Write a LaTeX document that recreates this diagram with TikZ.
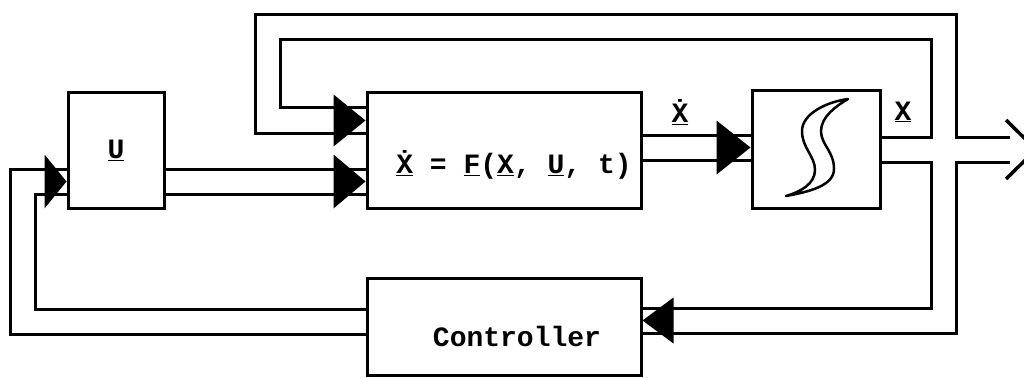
\documentclass[tikz,border=0pt]{standalone}
\usepackage{fontspec}
\setmonofont{Liberation Mono}
\usetikzlibrary{calc}
\tikzset{
    block/.style={rectangle, draw, line width=3pt, inner sep=0pt, font=\ttfamily\bfseries\fontsize{28}{32}\selectfont},
    sig/.style={inner sep=0pt, font=\ttfamily\bfseries\fontsize{28}{32}\selectfont},
    pipe/.style={double, double distance=22pt, line width=3pt},
    pics/head/.style args={#1/#2}{code={\fill (0,0) -- (-#1,-#2) -- (-#1,#2) -- cycle;}},
}

\begin{document}
\begin{tikzpicture}[x=1pt, y=-1pt]
    \useasboundingbox (0,0) rectangle (1024,377);
    \clip (0,0) rectangle (1024,377);

    % Blocks
    \node[block, minimum width=96pt, minimum height=115pt] (U) at (116,150.5) {\underline{U}};
    \node[block, minimum width=274pt, minimum height=115pt, text height=52pt, text depth=6pt] (F) at (504,150.5) {\hspace*{20pt}\underline{\.{X}} = \underline{F}(\underline{X}, \underline{U}, t)};
    \node[block, minimum width=128pt, minimum height=117pt] (I) at (816,149.5) {};
    \node[block, minimum width=274pt, minimum height=97pt, text height=40pt, text depth=0pt] (C) at (504,326.5) {\hspace*{26pt}Controller};

    % Integral sign
    \draw[line width=2.5pt, fill=white, line join=round] (848,99) .. controls (826,102) and (802,114) .. (802,131)
        .. controls (802,148) and (815,156) .. (815,170) .. controls (815,184) and (800,192) .. (786,196)
        .. controls (808,192) and (834,186) .. (834,169) .. controls (834,151) and (821,145) .. (821,131)
        .. controls (821,117) and (836,106) .. (848,99) -- cycle;

    % Connector ends
    \coordinate (Fin) at ([yshift=30pt]F.west);
    \coordinate (Fin2) at ([yshift=-31pt]F.west);
    \coordinate (Fout) at ([yshift=3pt]F.east);
    \coordinate (Cin) at ([yshift=6pt]C.east);
    \coordinate (Cout) at ([yshift=5pt]C.west);
    \coordinate (Uin) at ([yshift=-31pt]U.west);
    \coordinate (J) at (943.5,149.5);
    \coordinate (tr) at (943.5,27.5);
    \coordinate (tl) at (267.5,27.5);
    \coordinate (out) at (1010,149.5);

    % Pipes
    \draw[pipe] ([yshift=-31pt]U.east) -- (Fin2);
    \draw[pipe] (Fout) -- (Fout -| I.west);
    \draw[pipe] (I.east) -- (out) (J) -- (tr) -- (tl) |- (Fin) (J) |- (Cin);
    \draw[pipe] (Cout) -| ([xshift=-44pt]Uin) -- (Uin);

    % Arrow heads
    \pic at (Fin) {head=32/26};
    \pic at (Fin2) {head=32/27};
    \pic at (Fout -| I.west) {head=34/27};
    \pic[rotate=180] at (Cin) {head=31/23};
    \pic at (Uin) {head=22/27};
    \draw[line width=3.5pt] (1006,120) -- (1036,149.5) -- (1006,179);

    % Signal labels
    \node[sig] (xdot) at (680,112) {\underline{\.{X}}};
    \node[sig] (x) at (903,112) {\underline{X}};
\end{tikzpicture}
\end{document}
